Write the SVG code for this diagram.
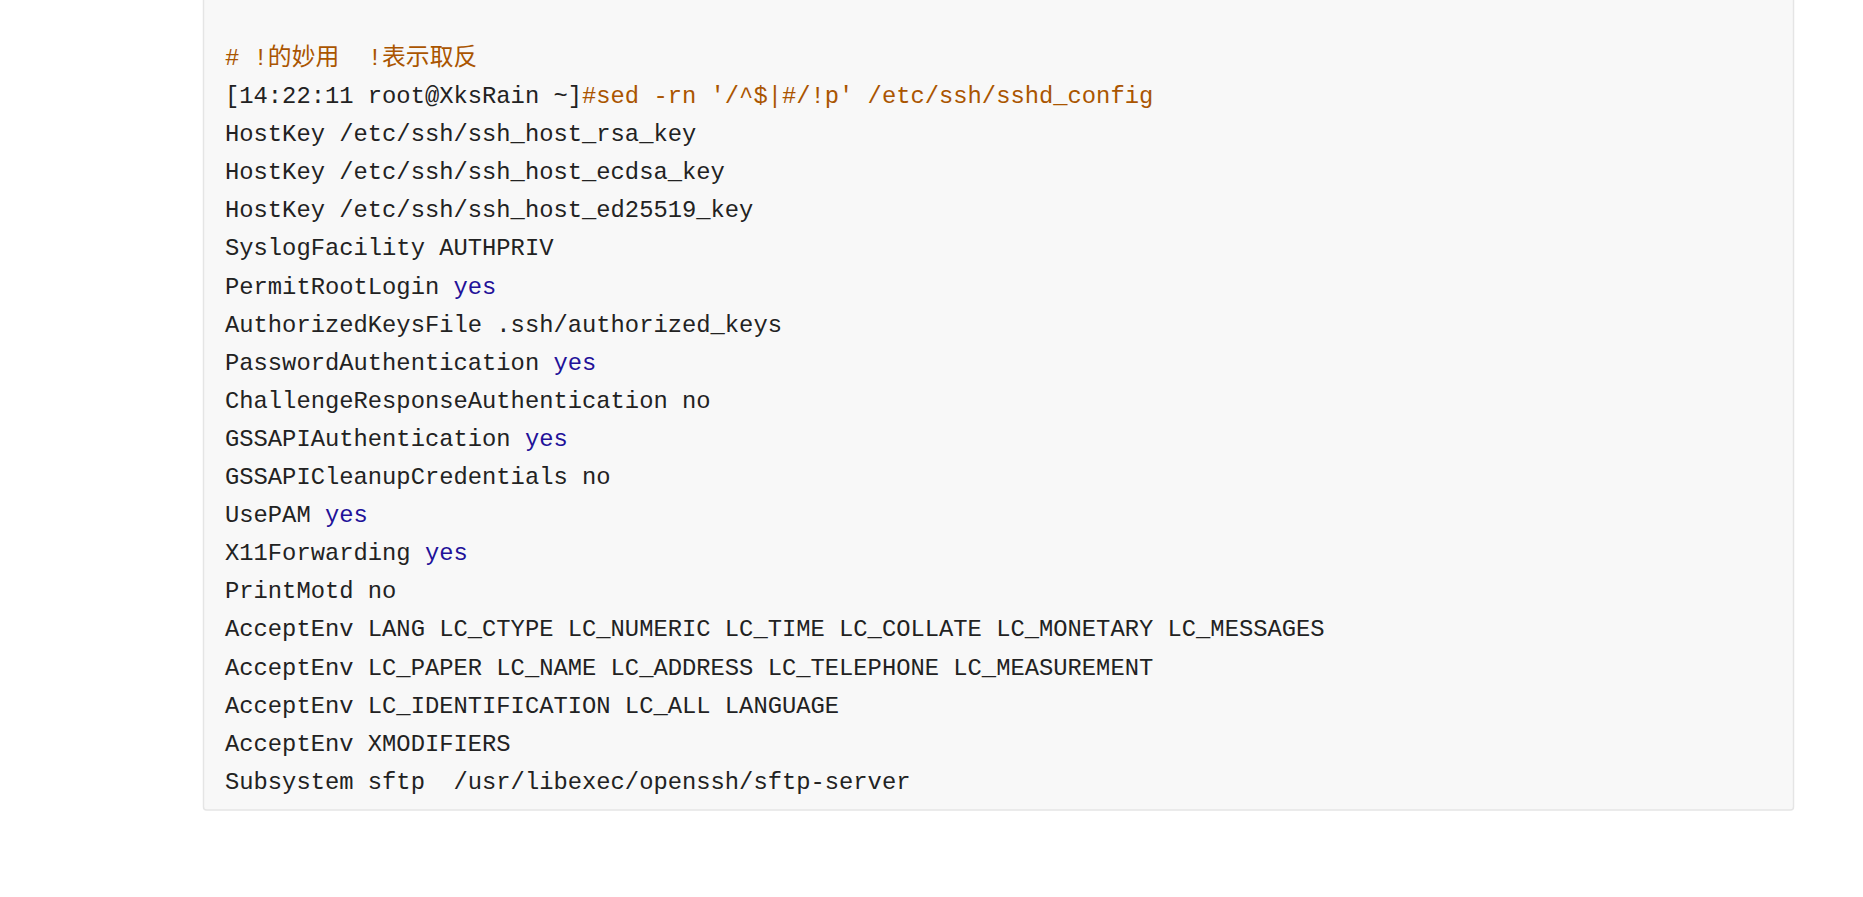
<svg xmlns="http://www.w3.org/2000/svg" width="1863" height="897" viewBox="0 0 1863 897">
<style>
text{font-family:"Liberation Mono","Noto Sans CJK SC",monospace;font-size:23.8px;fill:#222;white-space:pre}
.c{fill:#aa5500}
.k{fill:#221199}
</style>
<rect width="1863" height="897" fill="#fff"/>
<g id="box"><rect x="203.5" y="-10" width="1590" height="820" rx="3" fill="#f8f8f8" stroke="#e5e5e5" stroke-width="1.5"/></g>
<g id="code" xml:space="preserve">
<text x="225" y="65" class="c"># !的妙用  !表示取反</text>
<text x="225" y="103">[14:22:11 root@XksRain ~]<tspan class="c">#sed -rn '/^$|#/!p' /etc/ssh/sshd_config</tspan></text>
<text x="225" y="141">HostKey /etc/ssh/ssh_host_rsa_key</text>
<text x="225" y="179">HostKey /etc/ssh/ssh_host_ecdsa_key</text>
<text x="225" y="217">HostKey /etc/ssh/ssh_host_ed25519_key</text>
<text x="225" y="255">SyslogFacility AUTHPRIV</text>
<text x="225" y="294">PermitRootLogin <tspan class="k">yes</tspan></text>
<text x="225" y="332">AuthorizedKeysFile .ssh/authorized_keys</text>
<text x="225" y="370">PasswordAuthentication <tspan class="k">yes</tspan></text>
<text x="225" y="408">ChallengeResponseAuthentication no</text>
<text x="225" y="446">GSSAPIAuthentication <tspan class="k">yes</tspan></text>
<text x="225" y="484">GSSAPICleanupCredentials no</text>
<text x="225" y="522">UsePAM <tspan class="k">yes</tspan></text>
<text x="225" y="560">X11Forwarding <tspan class="k">yes</tspan></text>
<text x="225" y="598">PrintMotd no</text>
<text x="225" y="636">AcceptEnv LANG LC_CTYPE LC_NUMERIC LC_TIME LC_COLLATE LC_MONETARY LC_MESSAGES</text>
<text x="225" y="675">AcceptEnv LC_PAPER LC_NAME LC_ADDRESS LC_TELEPHONE LC_MEASUREMENT</text>
<text x="225" y="713">AcceptEnv LC_IDENTIFICATION LC_ALL LANGUAGE</text>
<text x="225" y="751">AcceptEnv XMODIFIERS</text>
<text x="225" y="789">Subsystem sftp  /usr/libexec/openssh/sftp-server</text>
</g>
</svg>
